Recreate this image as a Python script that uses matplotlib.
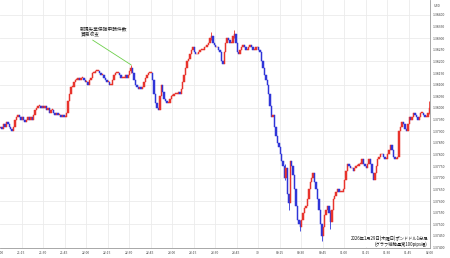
import numpy as np
import matplotlib
matplotlib.use('Agg')
from matplotlib import pyplot as plt

plt.rcParams['font.family'] = ['Noto Sans CJK JP', 'DejaVu Sans']

#########
# DATA  #
#########

# GBP/USD 1-min closes, 2026-01-29 21:00 -> 02:00 (JST)
first_open = 1.37915
closes = [
    1.37920, 1.37910, 1.37930, 1.37920, 1.37940, 1.37930, 1.37920, 1.37910, 1.37900, 1.37920,
    1.37950, 1.37960, 1.37970, 1.37960, 1.37950, 1.37960, 1.37950, 1.37940, 1.37950, 1.37960,
    1.37950, 1.37960, 1.37950, 1.37970, 1.37990, 1.38000, 1.38010, 1.38010, 1.38000, 1.38010,
    1.38000, 1.38010, 1.37990, 1.38000, 1.37980, 1.37990, 1.37990, 1.37980, 1.37970, 1.37980,
    1.37970, 1.37970, 1.37960, 1.37970, 1.37960, 1.37960, 1.37980, 1.38030, 1.38060, 1.38090,
    1.38090, 1.38110, 1.38120, 1.38120, 1.38130, 1.38120, 1.38130, 1.38130, 1.38120, 1.38110,
    1.38110, 1.38100, 1.38120, 1.38130, 1.38150, 1.38150, 1.38160, 1.38160, 1.38160, 1.38150,
    1.38140, 1.38140, 1.38130, 1.38120, 1.38110, 1.38110, 1.38100, 1.38100, 1.38120, 1.38140,
    1.38150, 1.38150, 1.38150, 1.38140, 1.38130, 1.38130, 1.38130, 1.38140, 1.38130, 1.38140,
    1.38160, 1.38170, 1.38150, 1.38120, 1.38100, 1.38090, 1.38080, 1.38090, 1.38080, 1.38090,
    1.38110, 1.38130, 1.38140, 1.38150, 1.38150, 1.38150, 1.38120, 1.38060, 1.38020, 1.38000,
    1.37990, 1.38050, 1.38100, 1.38070, 1.38040, 1.38030, 1.38020, 1.38020, 1.38040, 1.38050,
    1.38050, 1.38060, 1.38060, 1.38060, 1.38070, 1.38060, 1.38080, 1.38110, 1.38140, 1.38170,
    1.38200, 1.38210, 1.38230, 1.38250, 1.38260, 1.38240, 1.38230, 1.38230, 1.38240, 1.38250,
    1.38250, 1.38250, 1.38260, 1.38260, 1.38270, 1.38280, 1.38300, 1.38310, 1.38280, 1.38270,
    1.38260, 1.38260, 1.38250, 1.38240, 1.38200, 1.38190, 1.38240, 1.38280, 1.38300, 1.38290,
    1.38280, 1.38280, 1.38310, 1.38320, 1.38280, 1.38240, 1.38230, 1.38250, 1.38260, 1.38270,
    1.38260, 1.38250, 1.38250, 1.38260, 1.38270, 1.38260, 1.38250, 1.38250, 1.38260, 1.38260,
    1.38250, 1.38240, 1.38200, 1.38170, 1.38140, 1.38120, 1.38100, 1.38060, 1.38010, 1.37960,
    1.37970, 1.37920, 1.37880, 1.37850, 1.37830, 1.37800, 1.37770, 1.37750, 1.37700, 1.37740,
    1.37630, 1.37590, 1.37770, 1.37750, 1.37710, 1.37650, 1.37580, 1.37520, 1.37500, 1.37490,
    1.37520, 1.37550, 1.37570, 1.37580, 1.37610, 1.37650, 1.37680, 1.37700, 1.37720, 1.37680,
    1.37650, 1.37610, 1.37560, 1.37500, 1.37450, 1.37490, 1.37540, 1.37560, 1.37580, 1.37550,
    1.37510, 1.37560, 1.37610, 1.37620, 1.37640, 1.37650, 1.37640, 1.37640, 1.37640, 1.37650,
    1.37690, 1.37730, 1.37760, 1.37750, 1.37740, 1.37740, 1.37730, 1.37740, 1.37750, 1.37750,
    1.37760, 1.37760, 1.37780, 1.37760, 1.37750, 1.37740, 1.37760, 1.37780, 1.37760, 1.37720,
    1.37690, 1.37720, 1.37750, 1.37780, 1.37790, 1.37800, 1.37800, 1.37790, 1.37780, 1.37780,
    1.37800, 1.37820, 1.37840, 1.37820, 1.37790, 1.37780, 1.37780, 1.37790, 1.37900, 1.37920,
    1.37940, 1.37930, 1.37910, 1.37900, 1.37930, 1.37960, 1.37950, 1.37960, 1.37980, 1.37970,
    1.37960, 1.37950, 1.37960, 1.37980, 1.37980, 1.37970, 1.37960, 1.37960, 1.37980, 1.38000,
]

# visible wicks (minute index, high, low)
wick_idx = [91, 147, 163, 198, 201, 209, 224, 230, 299]
wick_hi = [1.38185, 1.38325, 1.38335, 1.37760, 1.37630, 1.37520, 1.37500, 1.37560, 1.38030]
wick_lo = [1.38150, 1.38290, 1.38300, 1.37690, 1.37560, 1.37470, 1.37430, 1.37480, 1.37975]

time_labels = ['21:00', '21:15', '21:30', '21:45', '22:00', '22:15', '22:30', '22:45',
               '23:00', '23:15', '23:30', '23:45', '30', '00:15', '00:30', '00:45',
               '01:00', '01:15', '01:30', '01:45', '02:00']
price_ticks = [1.37400 + 0.0005 * k for k in range(21)]

event_text = '新規失業保険申請件数\n貿易収支'
event_minute = 91
footer_text = '2026年1月29日(木曜日)ポンドドル1分足\n(グラフ縦軸通常100pips幅)'

########
# PLOT #
########

RED = '#e8332c'
BLUE = '#2f35d8'
GRID = '#ebebeb'
AXIS = '#9a9a9a'
LABEL = '#444444'

fig = plt.figure(figsize=(4.5, 2.58), dpi=100)
ax = fig.add_axes([0, 10 / 258, 430 / 450, 248 / 258])

c = np.array(closes)
o = np.array([first_open] + closes[:-1])
x = np.arange(len(c)) + 0.5
colors = np.where(c >= o, RED, BLUE)
body_lo = np.minimum(o, c)
body_h = np.maximum(np.abs(c - o), 0.00004)

for k in range(1, 11):
    ax.axhline(1.37400 + 0.001 * k, color=GRID, lw=0.6, zorder=0)
for k in range(1, 20):
    ax.axvline(15 * k, color=GRID, lw=0.6, zorder=0)

wick_col = [colors[i] for i in wick_idx]
ax.vlines(np.array(wick_idx) + 0.5, wick_lo, wick_hi, colors=wick_col, lw=0.6, zorder=2)
ax.bar(x, body_h, bottom=body_lo, width=1.0, color=colors, linewidth=0.35,
       edgecolor=colors, zorder=3)

ax.set_xlim(0, 300)
ax.set_ylim(1.37398, 1.38464)

ax.set_xticks(range(0, 301, 15))
ax.set_xticklabels(time_labels)
ax.set_yticks(price_ticks)
ax.set_yticklabels(['{:.5f}'.format(p) for p in price_ticks])
ax.yaxis.tick_right()
ax.tick_params(axis='x', length=0, pad=2.5, labelsize=2.4, labelcolor=LABEL)
ax.tick_params(axis='y', length=0, pad=2, labelsize=2.5, labelcolor=LABEL)

for side in ['top', 'left']:
    ax.spines[side].set_visible(False)
for side in ['right', 'bottom']:
    ax.spines[side].set_color(AXIS)
    ax.spines[side].set_linewidth(0.6)

fig.text(434 / 450, 1 - 6 / 258, 'USD', fontsize=2.5, color=LABEL, va='center', ha='left')

ax.annotate(event_text, xy=(event_minute + 0.5, wick_hi[0]), xytext=(56, 1.38350),
            fontsize=3.4, color='#222222', ha='left', va='top', linespacing=1.15,
            arrowprops=dict(arrowstyle='-', color='#6ccf4a', lw=0.6, relpos=(0.17, 0.0),
                            shrinkA=0, shrinkB=0))

ax.text(0.995, 0.006, footer_text, transform=ax.transAxes, fontsize=3.1, ha='right',
        va='bottom', color='#111111', linespacing=1.05, multialignment='right',
        bbox=dict(facecolor='white', edgecolor='none', pad=0.3), zorder=5)

plt.savefig('out.png', dpi=100)
